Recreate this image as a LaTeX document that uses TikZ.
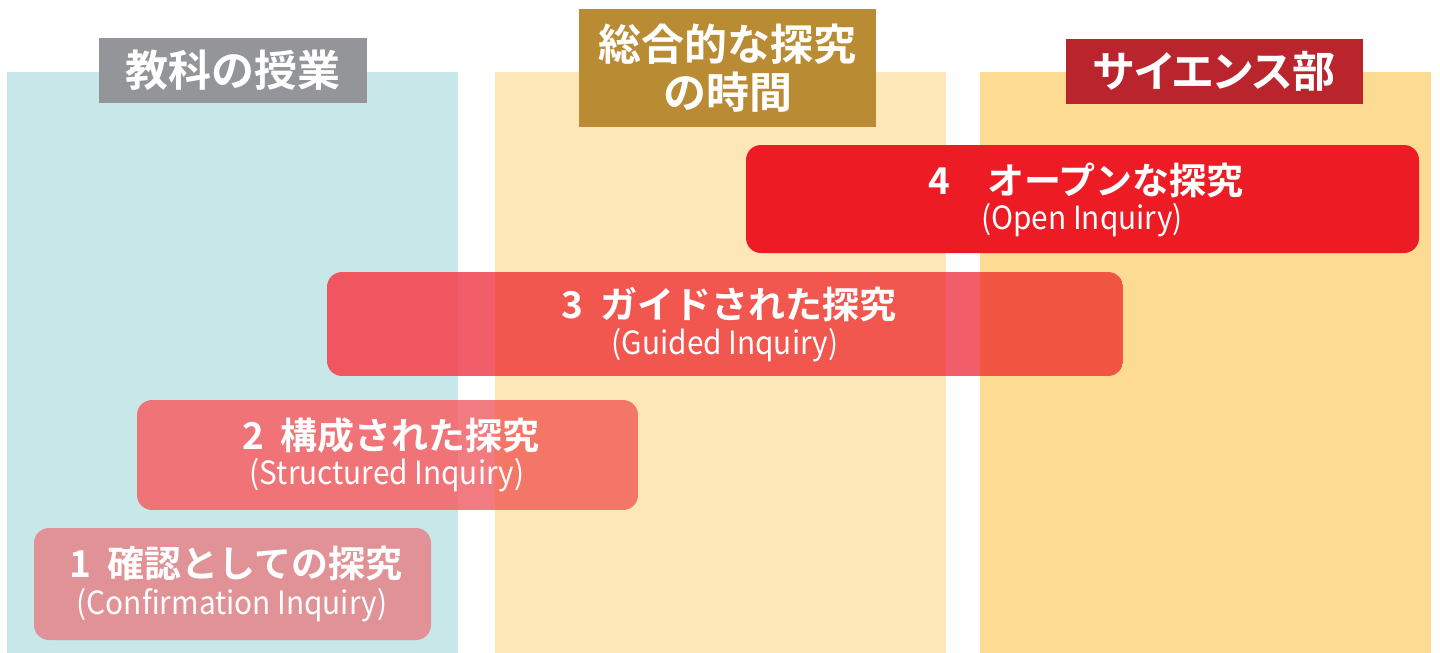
\documentclass[tikz,border=0pt]{standalone}
\usepackage{fontspec}
\setmainfont{Noto Sans CJK JP}[BoldFont={* Bold}]
\newfontfamily\subf{Noto Sans CJK JP}[FakeStretch=0.93]
\newfontfamily\paltf{Noto Sans CJK JP}[BoldFont={* Bold}, RawFeature=+palt]
\definecolor{colTeal}{HTML}{C8E7E8}
\definecolor{colLY}{HTML}{FDE7B9}
\definecolor{colY}{HTML}{FEDB93}
\definecolor{hdGray}{HTML}{939598}
\definecolor{hdGold}{HTML}{B98B33}
\definecolor{hdRed}{HTML}{BA252D}
\definecolor{bxRed}{HTML}{ED1C24}
\definecolor{bxOne}{HTML}{E19297}
\definecolor{bxTwoT}{HTML}{F07378}
\definecolor{bxTwoW}{HTML}{F27B81}
\definecolor{bxTwoL}{HTML}{F37667}
\definecolor{bxThrT}{HTML}{EF5660}
\definecolor{bxThrW}{HTML}{F15D69}
\definecolor{bxThrL}{HTML}{F1564F}
\definecolor{bxThrY}{HTML}{F15643}
\tikzset{
  hdtext/.style={text=white, font=\fontsize{21.5}{24}\selectfont\bfseries, align=center, inner sep=0pt},
  ttext/.style={text=white, font=\fontsize{18.5}{20}\selectfont\bfseries, inner sep=0pt},
  stext/.style={text=white, font=\fontsize{16}{18}\selectfont\subf, inner sep=0pt},
  rbox/.style={rounded corners=7.5pt},
}
\newcommand\numgap{\hspace{0.45em}}
\begin{document}
\begin{tikzpicture}[x=0.5pt,y=-0.5pt]
\useasboundingbox (0,0) rectangle (1440,653);
% columns
\fill[colTeal] (7,72) rectangle (458,653);
\fill[colLY] (495,72) rectangle (946,653);
\fill[colY] (980,72) rectangle (1431,653);
% headers
\fill[hdGray] (99,38) rectangle (367,103);
\node[hdtext] (h1) at (233,70.5) {教科の授業};
\fill[hdGold] (579,9) rectangle (876,127);
\node[hdtext] (h2) at (727.5,68) {総合的な探究\\の時間};
\fill[hdRed] (1066,39) rectangle (1363,104);
\node[hdtext, font=\fontsize{21.5}{24}\selectfont\paltf\bfseries] (h3) at (1214.5,71.5) {サイエンス部};
% box 1
\fill[rbox, bxOne] (34,528) rectangle (431,640);
\node[ttext] (t1) at (236,564) {1\numgap 確認としての探究};
\node[stext] (s1) at (232,605) {(Confirmation Inquiry)};
% box 2
\begin{scope}
\clip[rbox] (137,400) rectangle (638,510);
\fill[bxTwoT] (137,400) rectangle (458,510);
\fill[bxTwoW] (458,400) rectangle (495,510);
\fill[bxTwoL] (495,400) rectangle (638,510);
\end{scope}
\node[ttext] (t2) at (391,435) {2\numgap 構成された探究};
\node[stext] (s2) at (387,475) {(Structured Inquiry)};
% box 3
\begin{scope}
\clip[rbox] (327,272) rectangle (1123,376);
\fill[bxThrT] (327,272) rectangle (458,376);
\fill[bxThrW] (458,272) rectangle (495,376);
\fill[bxThrL] (495,272) rectangle (946,376);
\fill[bxThrW] (946,272) rectangle (980,376);
\fill[bxThrY] (980,272) rectangle (1123,376);
\end{scope}
\node[ttext] (t3) at (729,305) {3\numgap ガイドされた探究};
\node[stext] (s3) at (725,345) {(Guided Inquiry)};
% box 4
\fill[rbox, bxRed] (746,145) rectangle (1419,253);
\node[ttext] (t4) at (1086,180) {4　オープンな探究};
\node[stext] (s4) at (1082,220) {(Open Inquiry)};
\end{tikzpicture}
\end{document}
